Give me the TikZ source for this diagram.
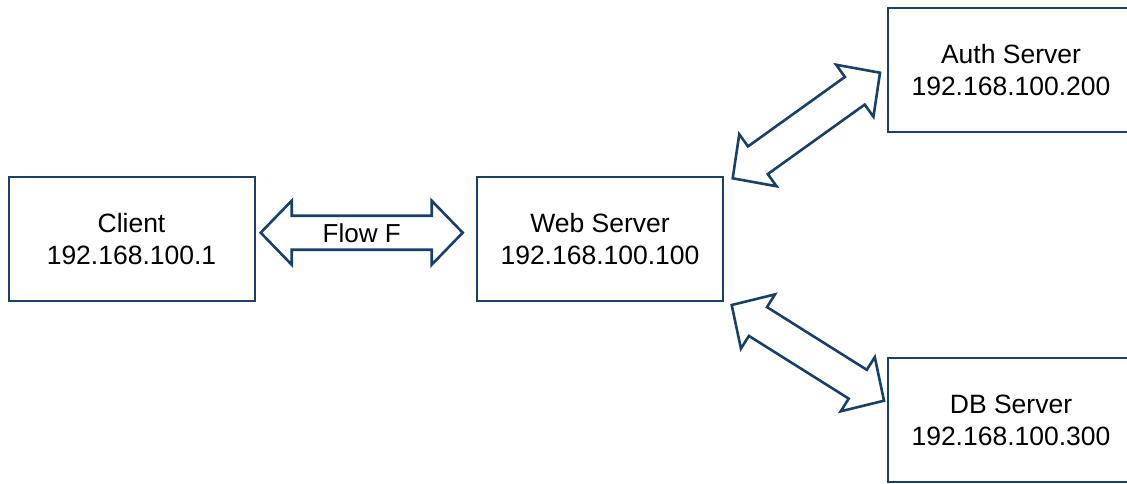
\documentclass[tikz,border=0pt]{standalone}
\usepackage{fontspec}
\setmainfont{Liberation Sans}
\usetikzlibrary{calc}
\definecolor{navy}{HTML}{1B3F66}
% block double arrow outline between two named coordinates
% (head length 31pt, head half-width 32pt, shaft half-width 17pt)
\newcommand{\linkarrow}[2]{%
  \coordinate (h1) at ($(#1)!31pt!(#2)$);
  \coordinate (h2) at ($(#2)!31pt!(#1)$);
  \draw[link] (#1) -- ($(h1)!32pt!90:(#2)$) -- ($(h1)!17pt!90:(#2)$)
    -- ($(h2)!17pt!-90:(#1)$) -- ($(h2)!32pt!-90:(#1)$) -- (#2)
    -- ($(h2)!32pt!90:(#1)$) -- ($(h2)!17pt!90:(#1)$)
    -- ($(h1)!17pt!-90:(#2)$) -- ($(h1)!32pt!-90:(#2)$) -- cycle;}
\begin{document}
\begin{tikzpicture}[x=1pt,y=-1pt,
  server/.style={draw=navy, line width=2pt, fill=white, minimum width=246pt,
    minimum height=124pt, align=center, inner sep=0pt,
    font=\fontsize{26.5}{32}\selectfont},
  link/.style={draw=navy, line width=2.6pt, fill=white, line join=miter},
  label/.style={inner sep=0pt, font=\fontsize{26}{32}\selectfont}]
\useasboundingbox (0,0) rectangle (1127,483);
\clip (0,0) rectangle (1127,483);

% servers
\node[server] (client) at (131.5,239) {Client\\192.168.100.1};
\node[server] (web)    at (600,239)   {Web Server\\192.168.100.100};
\node[server] (auth)   at (1011,70)   {Auth Server\\192.168.100.200};
\node[server] (db)     at (1011,420)  {DB Server\\192.168.100.300};

% arrow end points
\coordinate (cw1) at (260.7,232.7);
\coordinate (cw2) at (462.7,232.7);
\coordinate (wa1) at (732.7,178.3);
\coordinate (wa2) at (880,72.7);
\coordinate (wd1) at (731.7,305);
\coordinate (wd2) at (884,400.7);

% links
\linkarrow{cw1}{cw2}
\linkarrow{wa1}{wa2}
\linkarrow{wd1}{wd2}
\node[label] (flow) at ($(cw1)!0.5!(cw2)$) {Flow F};
\end{tikzpicture}
\end{document}
